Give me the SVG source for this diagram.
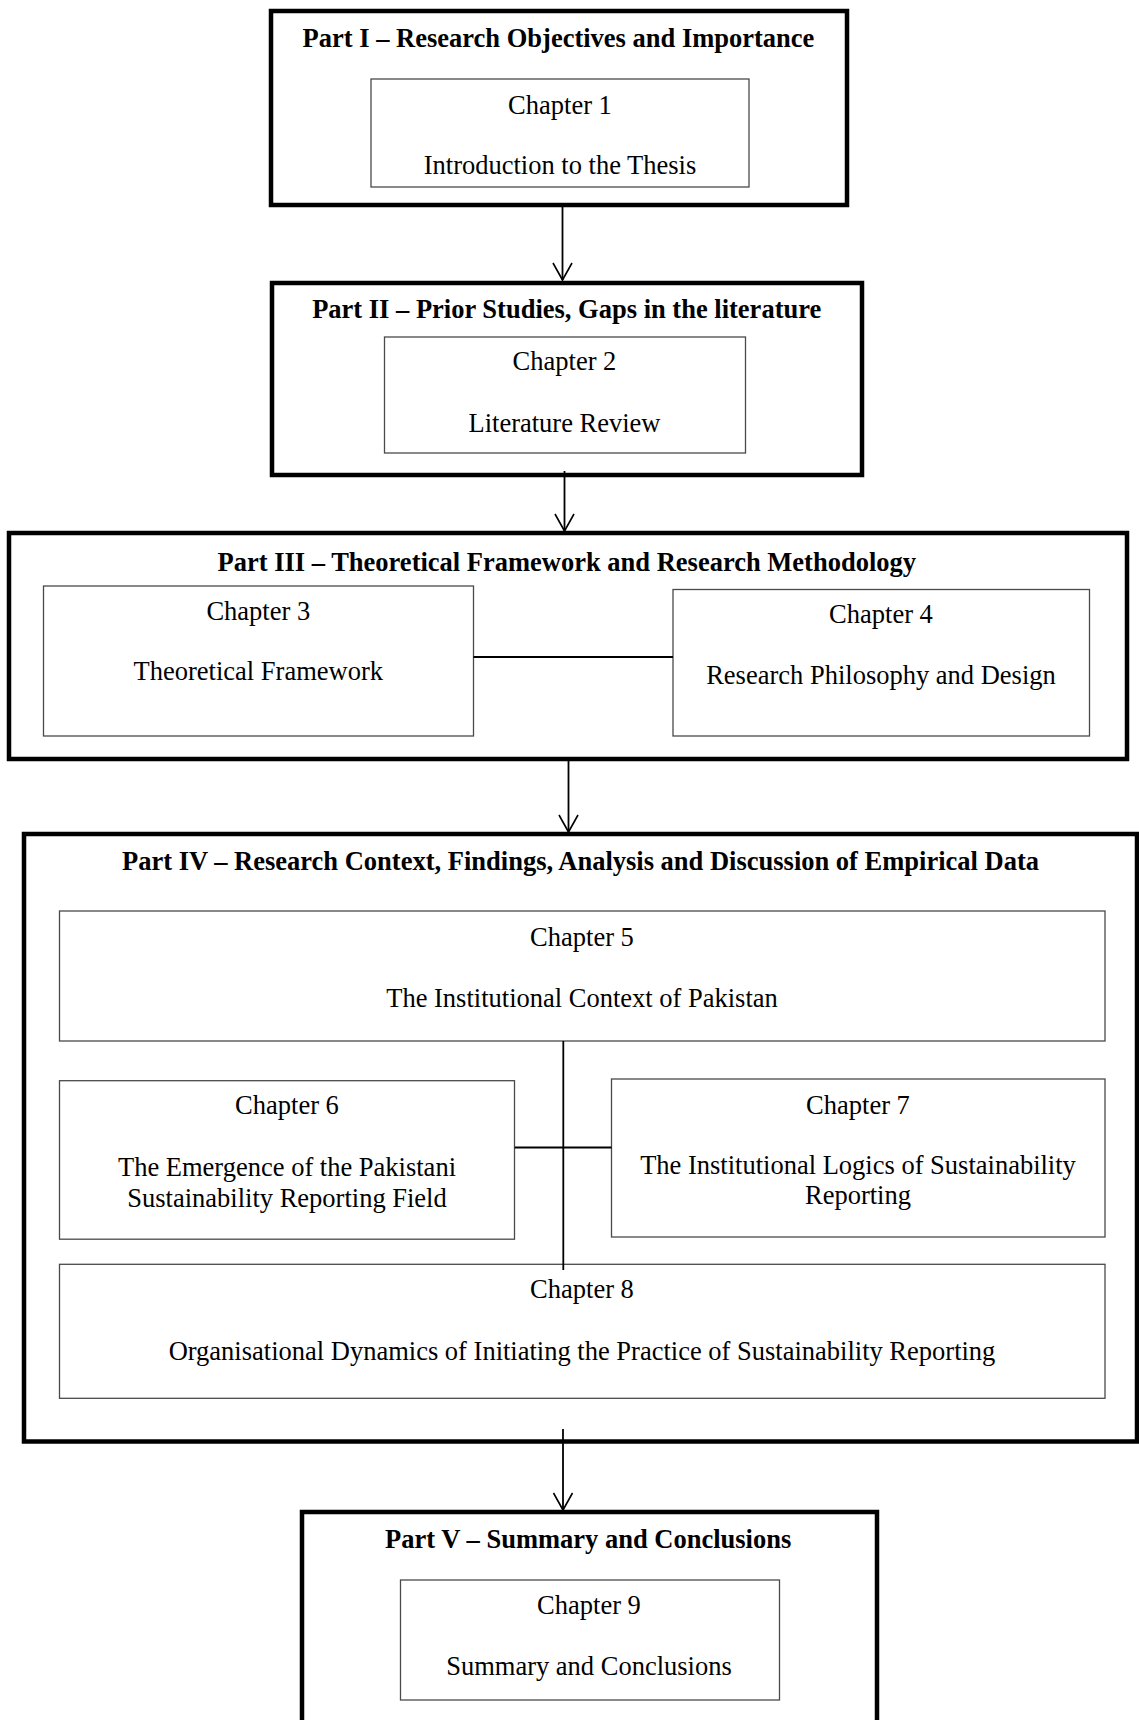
<svg xmlns="http://www.w3.org/2000/svg" width="1139" height="1720" viewBox="0 0 1139 1720">
<style>
.part{fill:none;stroke:#000;stroke-width:4.5}
.ch{fill:none;stroke:#4a4a4a;stroke-width:1.3}
.t{font-family:"Liberation Serif","Times New Roman",serif;font-size:26.5px;fill:#000;text-anchor:middle}
.b{font-weight:bold}
.con{stroke:#000;stroke-width:1.8;fill:none}
</style>
<defs>
<marker id="v" markerUnits="userSpaceOnUse" markerWidth="20" markerHeight="22" viewBox="0 0 20 22" refX="18" refY="11" orient="auto">
<path d="M1,1.5 L18,11 L1,20.5" fill="none" stroke="#000" stroke-width="1.6"/>
</marker>
</defs>
<rect width="1139" height="1720" fill="#fff"/>
<g id="part1">
<rect class="part" x="271" y="11" width="576" height="194"/>
<text class="t b" x="558.5" y="46.5">Part I – Research Objectives and Importance</text>
</g>
<g id="ch1">
<rect class="ch" x="371" y="79" width="378" height="108"/>
<text class="t" x="560" y="113.5">Chapter 1</text>
<text class="t" x="560" y="174">Introduction to the Thesis</text>
</g>
<g id="part2">
<rect class="part" x="272" y="283" width="590" height="192"/>
<text class="t b" x="566.7" y="318">Part II – Prior Studies, Gaps in the literature</text>
</g>
<g id="ch2">
<rect class="ch" x="384.5" y="337" width="361" height="116"/>
<text class="t" x="564.5" y="370">Chapter 2</text>
<text class="t" x="564.5" y="432">Literature Review</text>
</g>
<g id="part3">
<rect class="part" x="9" y="533" width="1118" height="226"/>
<text class="t b" x="566.8" y="571">Part III – Theoretical Framework and Research Methodology</text>
</g>
<g id="ch3">
<rect class="ch" x="43.5" y="586" width="430" height="150"/>
<text class="t" x="258.3" y="620">Chapter 3</text>
<text class="t" x="258.3" y="680">Theoretical Framework</text>
</g>
<g id="ch4">
<rect class="ch" x="673" y="589.5" width="416.5" height="146.5"/>
<text class="t" x="881" y="623">Chapter 4</text>
<text class="t" x="881" y="684">Research Philosophy and Design</text>
</g>
<g id="part4">
<rect class="part" x="24" y="834" width="1113" height="607.5"/>
<text class="t b" x="580.5" y="870">Part IV – Research Context, Findings, Analysis and Discussion of Empirical Data</text>
</g>
<g id="ch5">
<rect class="ch" x="59.5" y="911" width="1045.5" height="130"/>
<text class="t" x="582" y="945.5">Chapter 5</text>
<text class="t" x="582" y="1007">The Institutional Context of Pakistan</text>
</g>
<g id="ch6">
<rect class="ch" x="59.5" y="1080.7" width="455" height="158.5"/>
<text class="t" x="287" y="1113.5">Chapter 6</text>
<text class="t" x="287" y="1175.5">The Emergence of the Pakistani</text>
<text class="t" x="287" y="1207">Sustainability Reporting Field</text>
</g>
<g id="ch7">
<rect class="ch" x="611.5" y="1079" width="493.5" height="158"/>
<text class="t" x="858" y="1113.5">Chapter 7</text>
<text class="t" x="858" y="1174">The Institutional Logics of Sustainability</text>
<text class="t" x="858" y="1204">Reporting</text>
</g>
<g id="ch8">
<rect class="ch" x="59.5" y="1264.3" width="1045.5" height="134"/>
<text class="t" x="582" y="1298">Chapter 8</text>
<text class="t" x="582" y="1359.5">Organisational Dynamics of Initiating the Practice of Sustainability Reporting</text>
</g>
<g id="part5">
<rect class="part" x="302" y="1512" width="575" height="230"/>
<text class="t b" x="588.2" y="1548">Part V – Summary and Conclusions</text>
</g>
<g id="ch9">
<rect class="ch" x="400.5" y="1580" width="379" height="120"/>
<text class="t" x="589" y="1613.5">Chapter 9</text>
<text class="t" x="589" y="1675">Summary and Conclusions</text>
</g>
<g id="connectors">
<line class="con" x1="562.5" y1="205" x2="562.5" y2="280" marker-end="url(#v)"/>
<line class="con" x1="564.5" y1="471" x2="564.5" y2="531" marker-end="url(#v)"/>
<line class="con" x1="568.5" y1="759" x2="568.5" y2="832" marker-end="url(#v)"/>
<line class="con" x1="563" y1="1429" x2="563" y2="1510" marker-end="url(#v)"/>
<line class="con" x1="473.5" y1="657" x2="673" y2="657"/>
<line class="con" x1="563.3" y1="1041" x2="563.3" y2="1270"/>
<line class="con" x1="514.7" y1="1147.5" x2="611.5" y2="1147.5"/>
</g>
</svg>
